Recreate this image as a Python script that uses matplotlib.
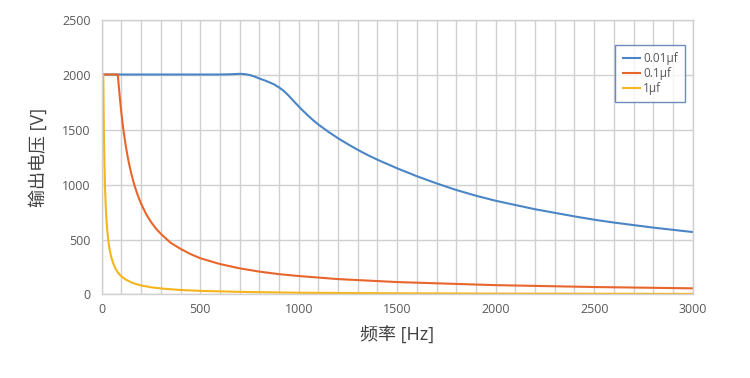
import matplotlib
matplotlib.use("Agg")
import matplotlib.pyplot as plt
from matplotlib.ticker import MultipleLocator

plt.rcParams['font.family'] = ['Open Sans', 'Noto Sans CJK SC', 'DejaVu Sans']

# 0.01uF
f_a = [0, 100, 200, 300, 400, 500, 600, 650, 700, 725, 750, 775, 800, 825, 850, 875, 900,
       925, 950, 975, 1000, 1025, 1050, 1075, 1100, 1150, 1200, 1250, 1300, 1350, 1400,
       1500, 1600, 1700, 1800, 1900, 2000, 2200, 2400, 2500, 2600, 2800, 3000]
v_a = [2000, 2000, 2000, 2000, 2000, 2000, 2000, 2002, 2006, 2004, 1996, 1982, 1964, 1948,
       1930, 1910, 1883, 1850, 1806, 1757, 1710, 1665, 1622, 1582, 1545, 1480, 1420, 1366,
       1315, 1268, 1225, 1147, 1075, 1010, 950, 898, 852, 775, 710, 680, 654, 608, 568]

# 0.1uF
f_b = [0, 80, 82, 85, 90, 95, 100, 105, 110, 120, 130, 140, 150, 165, 180, 200, 225, 250,
       275, 300, 350, 400, 450, 500, 600, 700, 800, 900, 1000, 1200, 1500, 2000, 2500, 3000]
v_b = [2000, 2000, 1990, 1930, 1830, 1735, 1650, 1570, 1500, 1375, 1270, 1180, 1100, 1000,
       917, 825, 733, 660, 600, 552, 470, 415, 368, 330, 277, 238, 208, 185, 168, 140, 113,
       85, 68, 56]

# 1uF
f_c = [0, 8, 9, 10, 11, 12, 14, 16, 18, 20, 23, 26, 30, 35, 40, 45, 50, 60, 70, 80, 90,
       100, 120, 150, 180, 200, 250, 300, 400, 500, 700, 1000, 1500, 2000, 2500, 3000]
v_c = [2000, 2000, 1830, 1650, 1500, 1375, 1180, 1030, 917, 825, 717, 635, 550, 471, 412,
       367, 330, 275, 236, 206, 183, 165, 138, 110, 92, 82, 66, 55, 41, 33, 24, 16, 11, 8,
       7, 5.5]

labels = ['0.01μf', '0.1μf', '1μf']
colors = ['#4a86c5', '#e8662c', '#f5b51c']

fig = plt.figure(figsize=(7.5, 3.78), dpi=100)
ax = fig.add_axes([0.1356, 0.2209, 0.788, 0.7275])

ax.plot(f_a, v_a, color=colors[0], lw=1.5, label=labels[0])
ax.plot(f_b, v_b, color=colors[1], lw=1.5, label=labels[1])
ax.plot(f_c, v_c, color=colors[2], lw=1.5, label=labels[2])

ax.set_xlim(0, 3000)
ax.set_ylim(0, 2500)
ax.xaxis.set_major_locator(MultipleLocator(500))
ax.xaxis.set_minor_locator(MultipleLocator(100))
ax.yaxis.set_major_locator(MultipleLocator(500))
ax.grid(which='both', axis='x', color='#d0d0d0', lw=1)
ax.grid(which='major', axis='y', color='#d0d0d0', lw=1)
ax.set_axisbelow(True)
for s in ax.spines.values():
    s.set_color('#d0d0d0')
    s.set_linewidth(1)
ax.tick_params(which='both', length=0, labelsize=9, colors='#595959')
ax.tick_params(axis='y', pad=8)
ax.tick_params(axis='x', pad=6)

ax.set_xlabel('频率 [Hz]', fontsize=13, color='#404040', labelpad=8)
ax.set_ylabel('输出电压 [V]', fontsize=13, color='#404040', labelpad=10)

leg = ax.legend(loc='upper right', bbox_to_anchor=(0.987, 0.907), borderaxespad=0,
                fontsize=8.5, frameon=True, fancybox=False, handlelength=1.5,
                handletextpad=0.25, borderpad=0.6, labelspacing=0.15, labelcolor='#595959')
leg.get_frame().set_edgecolor('#4a6fa8')
leg.get_frame().set_linewidth(1)

fig.savefig('out.png', dpi=100)
